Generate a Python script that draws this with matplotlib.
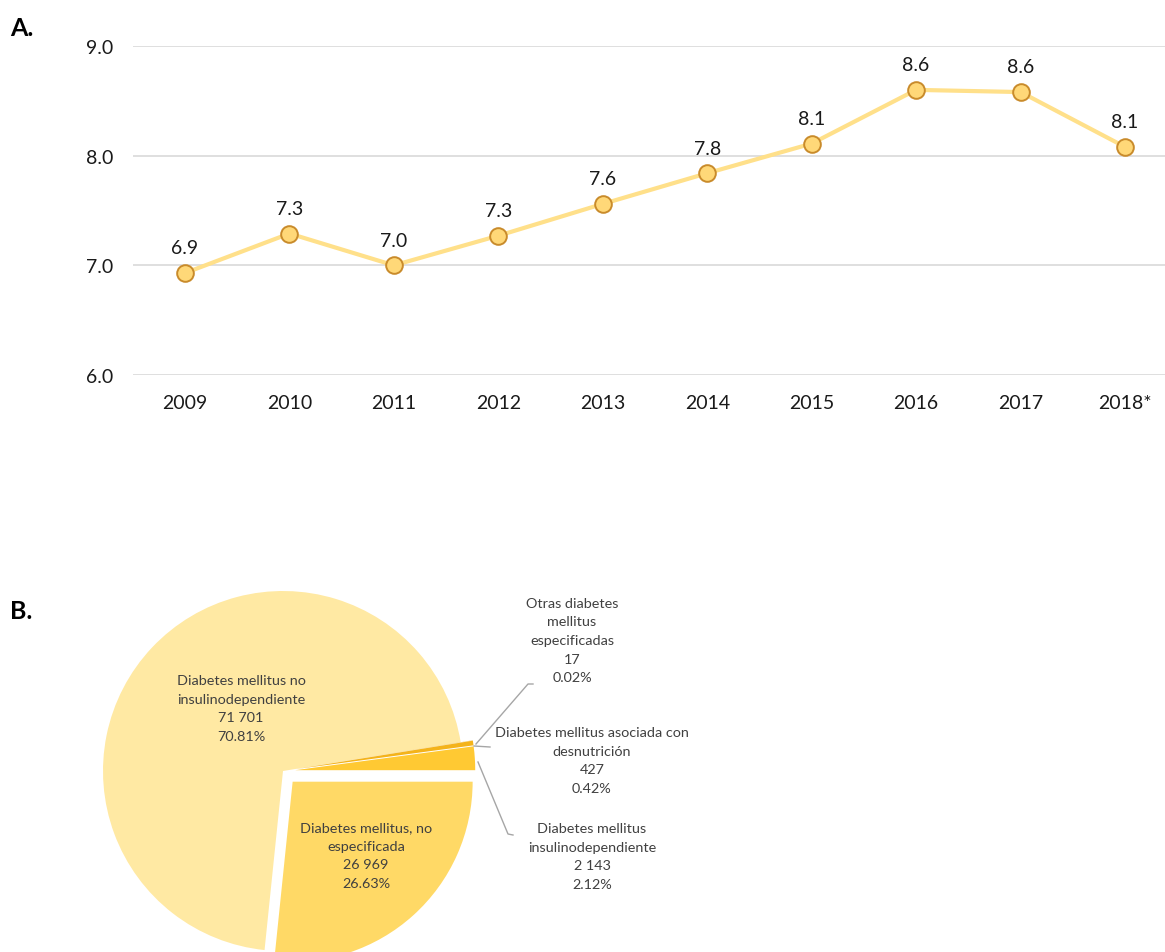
import numpy as np
import matplotlib.pyplot as plt

plt.rcParams['font.family'] = ['Lato', 'DejaVu Sans']

# panel A: yearly series
years = ['2009', '2010', '2011', '2012', '2013', '2014', '2015', '2016', '2017', '2018*']
rates = [6.93, 7.29, 7.00, 7.27, 7.56, 7.84, 8.11, 8.60, 8.58, 8.08]

# panel B: cases by type, largest first
types = ['Diabetes mellitus no\ninsulinodependiente',
         'Diabetes mellitus, no\nespecificada',
         'Diabetes mellitus\ninsulinodependiente',
         'Diabetes mellitus asociada con\ndesnutrición',
         'Otras diabetes\nmellitus\nespecificadas']
cases = [71701, 26969, 2143, 427, 17]
shares = [70.81, 26.63, 2.12, 0.42, 0.02]
slice_colors = ['#FFE9A3', '#FFD966', '#FFC933', '#F4B31A', '#E8A317']


def fmt_int(n):
    return f'{n:,}'.replace(',', ' ')


W, H = 1165, 953
fig = plt.figure(figsize=(W / 100, H / 100), dpi=100)

# ---- A ----
ax = fig.add_axes([133 / W, 1 - 376 / H, (W - 133) / W, (376 - 47) / H])
x = np.arange(len(years))
ax.plot(x, rates, color='#FFE08A', lw=3, zorder=2)
ax.plot(x, rates, 'o', ms=12, mfc='#FFD878', mec='#C98B2B', mew=1.4, zorder=3)
for xi, v in zip(x, rates):
    ax.annotate(f'{v:.1f}', (xi, v), xytext=(0, 12), textcoords='offset points',
                ha='center', va='bottom', fontsize=14, color='#1a1a1a')
ax.set_ylim(6, 9)
ax.set_yticks([6, 7, 8, 9])
ax.set_yticklabels([f'{t:.1f}' for t in [6, 7, 8, 9]])
ax.set_xlim(-0.498, 9.383)
ax.set_xticks(x)
ax.set_xticklabels(years)
ax.grid(axis='y', color='#d9d9d9', lw=1.2)
ax.set_axisbelow(True)
for s in ax.spines.values():
    s.set_visible(False)
ax.tick_params(length=0, labelsize=14, colors='#1a1a1a')
ax.tick_params(axis='y', pad=14)
ax.tick_params(axis='x', pad=14)

fig.text(10 / W, 1 - 28 / H, 'A.', fontsize=18, fontweight='bold', va='center')
fig.text(10 / W, 1 - 612 / H, 'B.', fontsize=18, fontweight='bold', va='center')

# ---- B ----
R = 180.0
cx, cy = 283, 772
top_px = 560
bx = fig.add_axes([0, 0, 1, (H - top_px) / H])

total = sum(cases)
start = 360 * (1 - (cases[0] + cases[1]) / total)
wedges, _ = bx.pie(cases, colors=slice_colors, startangle=start, counterclock=True,
                   explode=[0, 0.08, 0.068, 0.068, 0.068], radius=1,
                   wedgeprops=dict(linewidth=0), frame=True)
bx.set_xlim(-cx / R, (W - cx) / R)
bx.set_ylim(-(H - cy) / R, (cy - top_px) / R)
bx.set_aspect('auto')
bx.axis('off')


def px(xp, yp):
    return (xp - cx) / R, (cy - yp) / R


lab_kw = dict(ha='center', va='center', fontsize=10.4, color='#404040', linespacing=1.65)
inside = [(241, 709), (366, 856)]
for i, (lx, ly) in enumerate(inside):
    bx.text(*px(lx, ly), f'{types[i]}\n{fmt_int(cases[i])}\n{shares[i]:.2f}%', **lab_kw)

outside = {2: (592, 857), 3: (592, 761), 4: (572, 641)}
for i, (lx, ly) in outside.items():
    bx.text(*px(lx, ly), f'{types[i]}\n{fmt_int(cases[i])}\n{shares[i]:.2f}%', **lab_kw)

lead = dict(color='#a6a6a6', lw=1)
bx.plot(*zip(px(476, 745), px(528, 685), px(533, 685)), **lead)
bx.plot(*zip(px(474, 747), px(490, 748)), **lead)
bx.plot(*zip(px(478, 763), px(508, 835), px(513, 836)), **lead)

fig.savefig('out.png', dpi=100)
